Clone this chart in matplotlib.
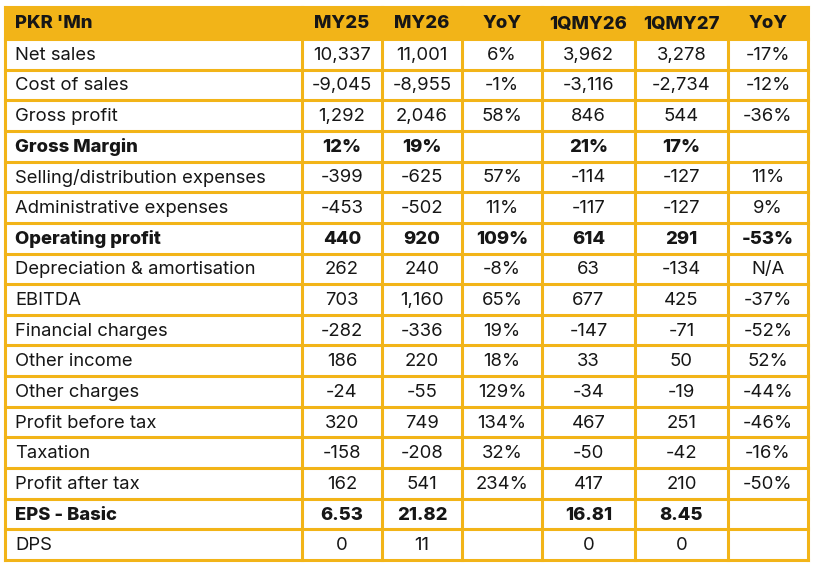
import matplotlib.pyplot as plt
from matplotlib.patches import Rectangle

# ── Data ──────────────────────────────────────────────────────────────────────
header = ["PKR 'Mn", "MY25", "MY26", "YoY", "1QMY26", "1QMY27", "YoY"]

row_labels = [
    "Net sales", "Cost of sales", "Gross profit", "Gross Margin",
    "Selling/distribution expenses", "Administrative expenses",
    "Operating profit", "Depreciation & amortisation", "EBITDA",
    "Financial charges", "Other income", "Other charges",
    "Profit before tax", "Taxation", "Profit after tax", "EPS - Basic", "DPS",
]
my25 = ["10,337", "-9,045", "1,292", "12%", "-399", "-453", "440", "262", "703",
        "-282", "186", "-24", "320", "-158", "162", "6.53", "0"]
my26 = ["11,001", "-8,955", "2,046", "19%", "-625", "-502", "920", "240", "1,160",
        "-336", "220", "-55", "749", "-208", "541", "21.82", "11"]
yoy_fy = ["6%", "-1%", "58%", "", "57%", "11%", "109%", "-8%", "65%",
          "19%", "18%", "129%", "134%", "32%", "234%", "", ""]
q_my26 = ["3,962", "-3,116", "846", "21%", "-114", "-117", "614", "63", "677",
          "-147", "33", "-34", "467", "-50", "417", "16.81", "0"]
q_my27 = ["3,278", "-2,734", "544", "17%", "-127", "-127", "291", "-134", "425",
          "-71", "50", "-19", "251", "-42", "210", "8.45", "0"]
yoy_q = ["-17%", "-12%", "-36%", "", "11%", "9%", "-53%", "N/A", "-37%",
         "-52%", "52%", "-44%", "-46%", "-16%", "-50%", "", ""]
bold_rows = ["Gross Margin", "Operating profit", "EPS - Basic"]

# ── Layout (pixel coordinates) ────────────────────────────────────────────────
W, H = 817, 571
col_edges = [5, 302, 382, 462, 542, 635, 728, 808]
top, header_bottom, bottom = 7, 39, 560
GOLD = '#F2B418'
FONT = ['Inter', 'DejaVu Sans']
FS = 13.3

fig = plt.figure(figsize=(W / 100, H / 100), dpi=100)
ax = fig.add_axes([0, 0, 1, 1])
ax.set_xlim(0, W)
ax.set_ylim(H, 0)
ax.axis('off')

n_rows = len(row_labels)
row_h = (bottom - header_bottom) / n_rows

# header band
ax.add_patch(Rectangle((col_edges[0], top), col_edges[-1] - col_edges[0],
                       header_bottom - top, facecolor=GOLD, edgecolor='none'))

columns = [row_labels, my25, my26, yoy_fy, q_my26, q_my27, yoy_q]


def put(ci, y, s, bold):
    if ci == 0:
        x, ha = col_edges[0] + 10, 'left'
    else:
        x, ha = 0.5 * (col_edges[ci] + col_edges[ci + 1]), 'center'
    ax.text(x, y, s, ha=ha, va='center', fontsize=FS, family=FONT,
            fontweight=800 if bold else 'normal', color='#161616')


for ci, h in enumerate(header):
    put(ci, 0.5 * (top + header_bottom) + 1, h, True)

for ri in range(n_rows):
    yc = header_bottom + (ri + 0.5) * row_h + 1
    bold = row_labels[ri] in bold_rows
    for ci, col in enumerate(columns):
        put(ci, yc, col[ri], bold)

# grid lines
lw = 2.2
for ri in range(n_rows + 1):
    y = header_bottom + ri * row_h
    ax.plot([col_edges[0], col_edges[-1]], [y, y], color=GOLD, lw=lw,
            solid_capstyle='projecting')
ax.plot([col_edges[0], col_edges[-1]], [top, top], color=GOLD, lw=lw,
        solid_capstyle='projecting')
for x in col_edges:
    ax.plot([x, x], [top, bottom], color=GOLD, lw=lw,
            solid_capstyle='projecting')

fig.savefig('out.png', dpi=100, facecolor='white')
